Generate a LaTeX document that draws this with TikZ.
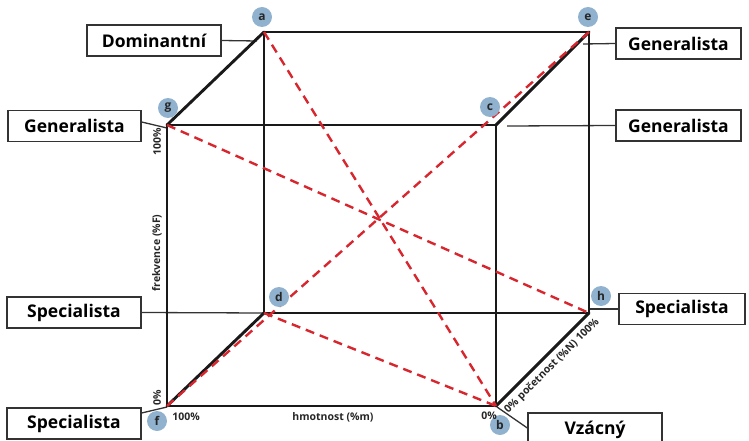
\documentclass[tikz,border=0pt]{standalone}
\usepackage{fontspec}
\setmainfont{Open Sans}
\definecolor{cubered}{HTML}{D7262E}
\definecolor{dotblue}{HTML}{90B2CE}
\definecolor{boxgray}{HTML}{333333}
\begin{document}
\begin{tikzpicture}[x=1pt,y=-1pt,
  edge/.style={line width=2.9pt,black!90,line cap=round,line join=round},
  diag/.style={line width=2.4pt,cubered,dash pattern=on 9pt off 6pt},
  conn/.style={line width=1.3pt,boxgray},
  labelbox/.style={draw=boxgray,line width=1.3pt,fill=white,minimum height=31pt,inner sep=0pt,font=\fontsize{17.5}{19}\selectfont\bfseries},
  dot/.style={circle,fill=dotblue,minimum size=20pt,inner sep=0pt,font=\fontsize{12}{13}\selectfont\bfseries,text=black!85},
  axis/.style={font=\fontsize{10.5}{12}\selectfont\bfseries,inner sep=0pt,text=black!85}]
\clip (0,0) rectangle (749,441);
% cube vertices
\coordinate (a) at (264,32);
\coordinate (e) at (589,32);
\coordinate (g) at (167,125);
\coordinate (c) at (496,125);
\coordinate (d) at (264,313);
\coordinate (h) at (589,313);
\coordinate (f) at (167,406);
\coordinate (b) at (496,406);
% connector end points
\coordinate (domE) at (257,41);
\coordinate (gtE) at (583,44);
\coordinate (gmE) at (507,126);
\coordinate (glE) at (167,128);
\coordinate (slE) at (264,313);
\coordinate (srE) at (589,309);
\coordinate (sbE) at (167,407);
\coordinate (vzE) at (497,407);
% boxes
\node[labelbox,minimum width=134pt] (dom) at (154,40.5) {Dominantní};
\node[labelbox,minimum width=125pt] (gt) at (678.5,43.5) {Generalista};
\node[labelbox,minimum width=125pt] (gm) at (678.5,125.5) {Generalista};
\node[labelbox,minimum width=133pt] (gl) at (74.5,126) {Generalista};
\node[labelbox,minimum width=134pt] (sl) at (74,312.5) {Specialista};
\node[labelbox,minimum width=126pt] (sr) at (682,309) {Specialista};
\node[labelbox,minimum width=134pt] (sb) at (74,423.5) {Specialista};
\node[labelbox,minimum width=134pt,minimum height=34pt] (vz) at (595,430) {Vzácný};
% connectors
\draw[conn] (dom.east) -- (domE);
\draw[conn] (gt.west) -- (gtE);
\draw[conn] (gm.west) -- (gmE);
\draw[conn] (gl.east |- 0,122) -- (glE);
\draw[conn] (sl.east) -- (slE);
\draw[conn] (sr.west) -- (srE);
\draw[conn] (sb.east |- 0,413) -- (sbE);
\draw[conn] (vz.west |- 0,428) -- (vzE);
% cube
\draw[edge] (a) -- (e) -- (h) -- (d) -- cycle;
\draw[edge] (g) -- (c) -- (b) -- (f) -- cycle;
\draw[edge] (a) -- (g);
\draw[edge] (e) -- (c);
\draw[edge] (d) -- (f);
\draw[edge] (h) -- (b);
% red dashed diagonals
\draw[diag] (a) -- (b);
\draw[diag] (e) -- (f);
\draw[diag] (g) -- (h);
\draw[diag] (d) -- (b);
% vertex dots
\node[dot] (la) at (262,17) {a};
\node[dot] (le) at (588,17) {e};
\node[dot] (lg) at (168,108) {g};
\node[dot] (lc) at (490,107) {c};
\node[dot] (ld) at (279,297) {d};
\node[dot] (lh) at (601,296) {h};
\node[dot] (lf) at (157,421) {f};
\node[dot] (lb) at (500,425) {b};
% axis labels
\node[axis,rotate=90] (t100f) at (157,142) {100\%};
\node[axis,rotate=90] (tfrek) at (157,253) {frekvence (\%F)};
\node[axis,rotate=90] (t0f) at (157,398) {0\%};
\node[axis] (t100m) at (186,417) {100\%};
\node[axis] (thm) at (333,417) {hmotnost (\%m)};
\node[axis] (t0m) at (489,416) {0\%};
\node[axis,rotate=45] (tpoc) at (552,366) {0\% početnost (\%N) 100\%};
\end{tikzpicture}
\end{document}
